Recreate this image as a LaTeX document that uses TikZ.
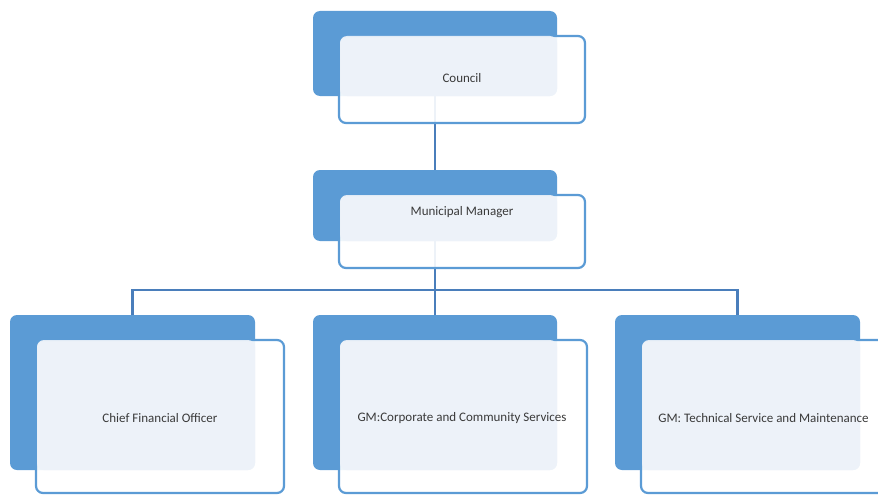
\documentclass[tikz,border=0pt]{standalone}
\usepackage{fontspec}
\setmainfont{Carlito}
\definecolor{accent}{HTML}{5B9BD5}
\definecolor{pale}{HTML}{EDF2F9}
\definecolor{linkblue}{HTML}{4A7EBB}
\definecolor{ink}{HTML}{3A3A3A}
\tikzset{
  back/.style={fill=accent, rounded corners=7pt, inner sep=0pt},
  frame/.style={draw=accent, line width=2.2pt, fill=white, fill opacity=.9, rounded corners=7pt, inner sep=0pt},
  textbox/.style={fill=pale, fill opacity=.92, rounded corners=7pt, inner sep=0pt},
  link/.style={draw=linkblue, line width=2.4pt},
  label/.style={text=ink, font=\fontsize{13}{15}\selectfont}
}
\begin{document}
\begin{tikzpicture}[x=1pt, y=-1pt]
\useasboundingbox (0,0) rectangle (878,495);

% back boxes
\node[back, minimum width=244pt, minimum height=85pt] (council) at (435,53.5) {};
\node[back, minimum width=244pt, minimum height=71pt] (mm) at (435,205.5) {};
\node[back, minimum width=245pt, minimum height=155pt] (cfo) at (132.5,392.5) {};
\node[back, minimum width=244pt, minimum height=155pt] (ccs) at (435,392.5) {};
\node[back, minimum width=245pt, minimum height=155pt] (tsm) at (737.5,392.5) {};

% connectors
\coordinate (bar) at (435,290);
\draw[link] (council.south) -- (mm.north);
\draw[link] (mm.south) -- (bar);
\draw[link] (cfo.north) |- (bar) -| (tsm.north);
\draw[link] (bar) -- (ccs.north);

% frames
\node[frame, minimum width=246pt, minimum height=87pt] (councilframe) at (462,79.5) {};
\node[frame, minimum width=246pt, minimum height=73pt] (mmframe) at (462,231.5) {};
\node[frame, minimum width=248pt, minimum height=153pt] (cfoframe) at (160,416.5) {};
\node[frame, minimum width=248pt, minimum height=153pt] (ccsframe) at (463,416.5) {};
\node[frame, minimum width=248pt, minimum height=153pt] (tsmframe) at (765,416.5) {};

% text boxes
\node[textbox, minimum width=217pt, minimum height=60pt] (councilbox) at (448.5,66) {};
\node[textbox, minimum width=217pt, minimum height=46pt] (mmbox) at (448.5,218) {};
\node[textbox, minimum width=218pt, minimum height=130pt] (cfobox) at (146,405) {};
\node[textbox, minimum width=217pt, minimum height=130pt] (ccsbox) at (448.5,405) {};
\node[textbox, minimum width=218pt, minimum height=130pt] (tsmbox) at (751,405) {};

\node[label] (councilname) at (462,78) {Council};
\node[label] (mmname) at (462,212) {Municipal Manager};
\node[label] (cfoname) at (160,418) {Chief Financial Officer};
\node[label] (ccsname) at (462,418) {GM:Corporate and Community Services};
\node[label] (tsmname) at (763.5,418) {GM: Technical Service and Maintenance};
\end{tikzpicture}
\end{document}
